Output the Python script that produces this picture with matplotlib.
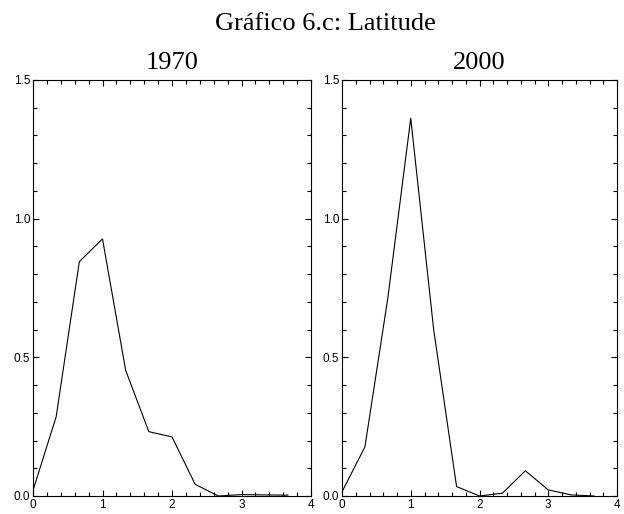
import matplotlib
matplotlib.use("Agg")
import matplotlib.pyplot as plt
import numpy as np
from matplotlib.ticker import MultipleLocator, FormatStrFormatter

# abscissa: steps of 1/3 from 0 to 11/3
x = [0, 1/3, 2/3, 1, 4/3, 5/3, 2, 7/3, 8/3, 3, 10/3, 11/3]
y1970 = [0.02, 0.286, 0.845, 0.927, 0.453, 0.232, 0.213, 0.042, 0.0, 0.005, 0.004, 0.003]
y2000 = [0.015, 0.177, 0.714, 1.362, 0.60, 0.034, 0.0, 0.01, 0.091, 0.022, 0.004, 0.0]

title = "Gráfico 6.c: Latitude"
panels = ["1970", "2000"]

fig = plt.figure(figsize=(6.24, 5.14), dpi=100)
ax1 = fig.add_axes([33/624, 18/514, 278/624, 416/514])
ax2 = fig.add_axes([342/624, 18/514, 275/624, 416/514])

for ax, ys, name in zip([ax1, ax2], [y1970, y2000], panels):
    ax.plot(x, ys, color='black', linewidth=0.8)
    ax.set_xlim(0, 4)
    ax.set_ylim(0, 1.5)
    ax.xaxis.set_major_locator(MultipleLocator(1))
    ax.xaxis.set_minor_locator(MultipleLocator(0.2))
    ax.yaxis.set_major_locator(MultipleLocator(0.5))
    ax.yaxis.set_minor_locator(MultipleLocator(0.1))
    ax.yaxis.set_major_formatter(FormatStrFormatter('%.1f'))
    ax.xaxis.set_major_formatter(FormatStrFormatter('%d'))
    ax.tick_params(which='both', direction='in', top=True, right=True,
                   width=0.8, labelsize=8.5, pad=2)
    ax.tick_params(which='major', length=4.5)
    ax.tick_params(which='minor', length=3)
    for lab in ax.get_xticklabels() + ax.get_yticklabels():
        lab.set_fontfamily('Liberation Sans')
    for sp in ax.spines.values():
        sp.set_linewidth(0.8)
    ax.set_title(name, fontsize=19, fontfamily='Liberation Serif', pad=8)

fig.text(325/624, 1 - 24/514, title, ha='center', va='center',
         fontsize=19, fontfamily='Liberation Serif')

plt.savefig('out.png', dpi=100)
